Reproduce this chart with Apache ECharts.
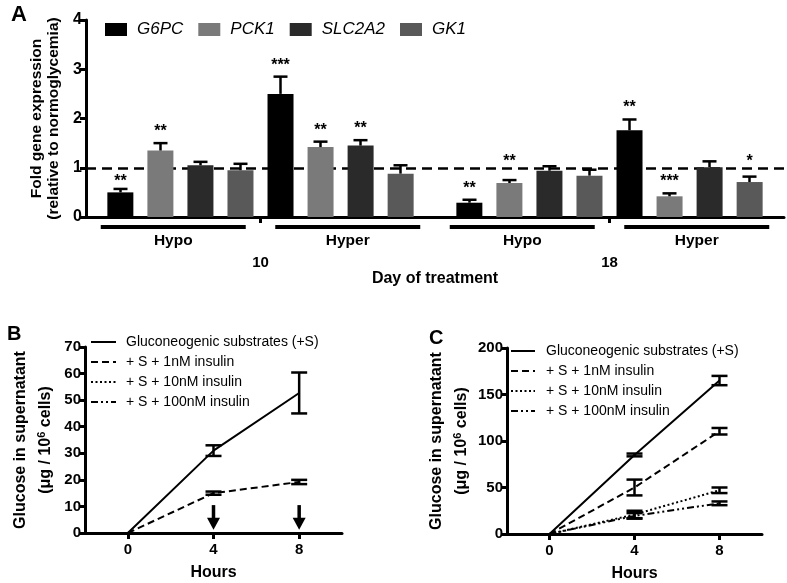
<!DOCTYPE html>
<html>
<head>
<meta charset="utf-8">
<script src="https://cdn.jsdelivr.net/npm/echarts@6/dist/echarts.min.js"></script>
<style>
html, body { margin: 0; padding: 0; background: #fff; }
#chart { width: 787px; height: 583px; }
</style>
</head>
<body>
<div id="chart"></div>
<script>
// ---- panel A : fold gene expression ----
var days = ['10', '18'];
var glycemia = ['Hypo', 'Hyper'];
var groupLabels = ['Hypo', 'Hyper', 'Hypo', 'Hyper'];
var genes = ['G6PC', 'PCK1', 'SLC2A2', 'GK1'];
// columns: Hypo d10, Hyper d10, Hypo d18, Hyper d18
var meanA = [
    [0.50, 2.50, 0.29, 1.76],   // G6PC
    [1.35, 1.42, 0.69, 0.42],   // PCK1
    [1.05, 1.45, 0.94, 1.01],   // SLC2A2
    [0.95, 0.88, 0.84, 0.71]    // GK1
];
var semA = [
    [0.07, 0.35, 0.06, 0.22],
    [0.15, 0.11, 0.06, 0.06],
    [0.07, 0.11, 0.09, 0.12],
    [0.13, 0.17, 0.12, 0.11]
];
var sigA = [
    ['**', '***', '**', '**'],
    ['**', '**', '**', '***'],
    ['', '**', '', ''],
    ['', '', '', '*']
];
var normoLevel = 1;

// ---- panels B and C : glucose release ----
var hours = ['0', '4', '8'];
var treatments = ['Gluconeogenic substrates (+S)', '+ S + 1nM insulin', '+ S + 10nM insulin', '+ S + 100nM insulin'];
var meanB = [[0, 31, 52.7], [0, 15, 19.2], [], []];
var semB = [[0, 2, 7.7], [0, 0.6, 0.8], [], []];
var arrowHoursB = ['4', '8'];
var meanC = [[0, 85, 165], [0, 50, 110.5], [0, 21, 47], [0, 19.5, 33]];
var semC = [[0, 1.5, 5], [0, 8.5, 3.5], [0, 4, 3], [0, 3, 2]];

var FONT = '"Liberation Sans", Arial, Helvetica, sans-serif';
var geneColors = ['#000000', '#7a7a7a', '#2a2a2a', '#595959'];
var dashes = ['solid', [7, 4], [2, 2.5], [7, 3, 2, 3, 2, 3]];

var chart = echarts.init(document.getElementById('chart'));

function renderErrA(params, api) {
    var top = api.coord([api.value(0), api.value(3)]);
    var base = api.coord([api.value(0), api.value(2)]);
    var refY = api.coord([0, normoLevel])[1];
    var x = top[0] + (api.value(1) - 3.5) * 40;
    var st = { stroke: '#000', lineWidth: 2.5 };
    var kids = [
        { type: 'line', shape: { x1: x, y1: base[1], x2: x, y2: top[1] }, style: st },
        { type: 'line', shape: { x1: x - 7, y1: top[1], x2: x + 7, y2: top[1] }, style: st }
    ];
    var s = starsA[params.dataIndex];
    if (s) {
        // star centre 15px over the cap, kept clear of the dashed line
        var c = top[1] - 15;
        if (Math.abs(c - refY) < 8) {
            c = (top[1] - (refY + 10) >= 8) ? refY + 10 : refY - 10;
        }
        kids.push({ type: 'text', x: x, y: c + 11.5, style: {
            text: s, align: 'center', verticalAlign: 'bottom', fill: '#000',
            font: 'bold 16px ' + FONT } });
    }
    return { type: 'group', children: kids };
}

function renderErrLine(params, api) {
    var lo = api.coord([api.value(0), api.value(1)]);
    var hi = api.coord([api.value(0), api.value(2)]);
    var st = { stroke: '#000', lineWidth: 2.5 };
    return { type: 'group', children: [
        { type: 'line', shape: { x1: lo[0], y1: lo[1], x2: hi[0], y2: hi[1] }, style: st },
        { type: 'line', shape: { x1: hi[0] - 8, y1: hi[1], x2: hi[0] + 8, y2: hi[1] }, style: st },
        { type: 'line', shape: { x1: lo[0] - 8, y1: lo[1], x2: lo[0] + 8, y2: lo[1] }, style: st }
    ] };
}

function renderArrow(params, api) {
    var top = api.coord([api.value(0), api.value(1)]);
    var tip = api.coord([api.value(0), api.value(2)]);
    var head = 12;
    return { type: 'group', children: [
        { type: 'line', shape: { x1: top[0], y1: top[1], x2: tip[0], y2: tip[1] - head + 1 },
          style: { stroke: '#000', lineWidth: 3.5 } },
        { type: 'polygon', shape: { points: [[tip[0] - 6.5, tip[1] - head], [tip[0] + 6.5, tip[1] - head], [tip[0], tip[1]]] },
          style: { fill: '#000' } }
    ] };
}

// error bar data for A, slot = position of the bar inside its day
var errA = [], starsA = [];
groupLabels.forEach(function (g, gi) {
    genes.forEach(function (name, k) {
        var m = meanA[k][gi];
        errA.push([Math.floor(gi / 2), (gi % 2) * 4 + k, m, m + semA[k][gi]]);
        starsA.push(sigA[k][gi]);
    });
});

function errItems(mean, sem) {
    var out = [];
    mean.forEach(function (m, i) {
        if (sem[i] > 0) out.push([i, m - sem[i], m + sem[i]]);
    });
    return out;
}

var series = [];

// dashed reference at 1 (behind the bars)
series.push({
    type: 'line', xAxisIndex: 0, yAxisIndex: 0, data: [], z: 1,
    markLine: {
        silent: true, symbol: 'none', label: { show: false }, z: 1,
        lineStyle: { color: '#000', type: [10, 6], width: 2.5 },
        data: [{ yAxis: normoLevel }]
    }
});

glycemia.forEach(function (gl, g) {
    genes.forEach(function (name, k) {
        series.push({
            type: 'bar', name: name, xAxisIndex: 0, yAxisIndex: 0,
            barWidth: 26, barGap: '54%', z: 2,
            itemStyle: { color: geneColors[k] },
            data: days.map(function (d, di) { return meanA[k][di * 2 + g]; })
        });
    });
});

series.push({
    type: 'custom', xAxisIndex: 0, yAxisIndex: 0, z: 3,
    renderItem: renderErrA, dimensions: ['day', 'slot', 'mean', 'top'],
    encode: { x: 0, y: 3 }, data: errA
});

// [mean, sem, xAxisIndex, yAxisIndex]
[[meanB, semB, 2, 1], [meanC, semC, 3, 2]].forEach(function (p) {
    var mean = p[0], sem = p[1], xi = p[2], yi = p[3];
    treatments.forEach(function (name, i) {
        series.push({
            type: 'line', name: name, xAxisIndex: xi, yAxisIndex: yi,
            symbol: 'none', showSymbol: false, color: '#000',
            lineStyle: { color: '#000', width: 2, type: dashes[i] },
            data: mean[i]
        });
        var err = errItems(mean[i], sem[i]);
        if (err.length) {
            series.push({
                type: 'custom', xAxisIndex: xi, yAxisIndex: yi, z: 3,
                renderItem: renderErrLine, dimensions: ['hour', 'low', 'high'],
                encode: { x: 0, y: 2 }, data: err
            });
        }
    });
});

series.push({
    type: 'custom', xAxisIndex: 2, yAxisIndex: 1, z: 3,
    renderItem: renderArrow, dimensions: ['hour', 'top', 'tip'],
    encode: { x: 0, y: 1 },
    data: arrowHoursB.map(function (h) { return [hours.indexOf(h), 10.5, 1.2]; })
});

var axisLine = { show: true, lineStyle: { color: '#000', width: 3 } };
var axisTick = { show: true, length: 6, lineStyle: { color: '#000', width: 3 } };
var tickLabel = { color: '#000', fontWeight: 'bold', fontSize: 15, fontFamily: FONT };
var nameStyle = { color: '#000', fontWeight: 'bold', fontSize: 16, fontFamily: FONT };
var noMarker = { color: 'rgba(0,0,0,0)', borderWidth: 0 };

var option = {
    animation: false,
    backgroundColor: '#fff',
    textStyle: { fontFamily: FONT, color: '#000' },
    title: [
        { text: 'A', left: 6, top: -1, textStyle: { fontSize: 22, fontWeight: 'bold', color: '#000' } },
        { text: 'B', left: 2, top: 319, textStyle: { fontSize: 20, fontWeight: 'bold', color: '#000' } },
        { text: 'C', left: 424, top: 323, textStyle: { fontSize: 20, fontWeight: 'bold', color: '#000' } }
    ],
    legend: [
        {
            data: genes, left: 105, top: 21, padding: 0, icon: 'rect',
            itemWidth: 22, itemHeight: 13, itemGap: 15,
            textStyle: { fontSize: 17, fontStyle: 'italic', color: '#000', padding: [0, 0, 0, 5] }
        },
        {
            data: treatments, left: 90, top: 335, padding: 0, orient: 'vertical',
            itemWidth: 25, itemHeight: 14, itemGap: 6, itemStyle: noMarker,
            textStyle: { fontSize: 14, color: '#000', padding: [0, 0, 0, 5] }
        },
        {
            data: treatments, left: 510, top: 344, padding: 0, orient: 'vertical',
            itemWidth: 24, itemHeight: 14, itemGap: 6, itemStyle: noMarker,
            textStyle: { fontSize: 14, color: '#000', padding: [0, 0, 0, 6] }
        }
    ],
    grid: [
        { left: 86, right: 3, top: 20, height: 197 },
        { left: 85, top: 347, width: 257, height: 186 },
        { left: 507, top: 348, width: 255, height: 186 }
    ],
    xAxis: [
        {
            gridIndex: 0, type: 'category', data: days,
            axisLine: axisLine,
            axisTick: { show: true, alignWithLabel: true, length: 6, lineStyle: { color: '#000', width: 3 } },
            axisLabel: Object.assign({ margin: 38 }, tickLabel),
            name: 'Day of treatment', nameLocation: 'middle', nameGap: 51, nameTextStyle: nameStyle
        },
        {
            gridIndex: 0, type: 'category', data: groupLabels, position: 'bottom',
            axisLine: { show: false }, axisTick: { show: false },
            axisLabel: {
                interval: 0, margin: 8,
                formatter: function (v) { return '{bar| }\n{t|' + v + '}'; },
                rich: {
                    bar: { width: 145, height: 4, lineHeight: 4, backgroundColor: '#000' },
                    t: { fontSize: 15.5, fontWeight: 'bold', color: '#000', lineHeight: 24, fontFamily: FONT }
                }
            }
        },
        {
            gridIndex: 1, type: 'category', data: hours,
            axisLine: axisLine,
            axisTick: { show: true, alignWithLabel: true, length: 6, lineStyle: { color: '#000', width: 3 } },
            axisLabel: Object.assign({ margin: 9 }, tickLabel),
            name: 'Hours', nameLocation: 'middle', nameGap: 32, nameTextStyle: nameStyle
        },
        {
            gridIndex: 2, type: 'category', data: hours,
            axisLine: axisLine,
            axisTick: { show: true, alignWithLabel: true, length: 6, lineStyle: { color: '#000', width: 3 } },
            axisLabel: Object.assign({ margin: 9 }, tickLabel),
            name: 'Hours', nameLocation: 'middle', nameGap: 32, nameTextStyle: nameStyle
        }
    ],
    yAxis: [
        {
            gridIndex: 0, type: 'value', min: 0, max: 4, interval: 1,
            axisLine: axisLine, axisTick: axisTick, splitLine: { show: false },
            axisLabel: Object.assign({ margin: 4 }, tickLabel, { fontSize: 16 }),
            name: 'Fold gene expression\n(relative to normoglycemia)',
            nameLocation: 'middle', nameGap: 23,
            nameTextStyle: Object.assign({}, nameStyle, { fontSize: 15.5, lineHeight: 17 })
        },
        {
            gridIndex: 1, type: 'value', min: 0, max: 70, interval: 10,
            axisLine: axisLine, axisTick: axisTick, splitLine: { show: false },
            axisLabel: Object.assign({ margin: 4 }, tickLabel),
            name: 'Glucose in supernatant\n(μg / 10{sup|6} cells)',
            nameLocation: 'middle', nameGap: 27,
            nameTextStyle: Object.assign({}, nameStyle, {
                lineHeight: 25,
                rich: { sup: { fontSize: 11, fontWeight: 'bold', color: '#000', padding: [0, 0, 8, 0], fontFamily: FONT } }
            })
        },
        {
            gridIndex: 2, type: 'value', min: 0, max: 200, interval: 50,
            axisLine: axisLine, axisTick: axisTick, splitLine: { show: false },
            axisLabel: Object.assign({ margin: 4 }, tickLabel),
            name: 'Glucose in supernatant\n(μg / 10{sup|6} cells)',
            nameLocation: 'middle', nameGap: 33,
            nameTextStyle: Object.assign({}, nameStyle, {
                lineHeight: 25,
                rich: { sup: { fontSize: 11, fontWeight: 'bold', color: '#000', padding: [0, 0, 8, 0], fontFamily: FONT } }
            })
        }
    ],
    series: series
};

chart.setOption(option);
</script>
</body>
</html>
